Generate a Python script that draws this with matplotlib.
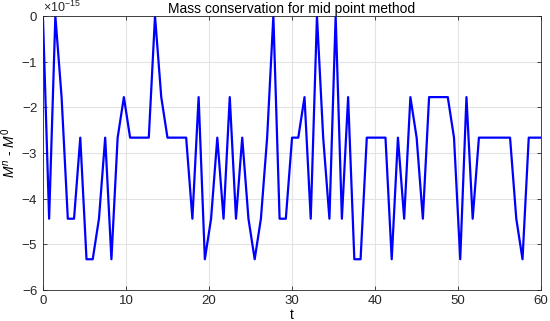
import numpy as np
import matplotlib
matplotlib.use("Agg")
import matplotlib.pyplot as plt
from matplotlib.ticker import ScalarFormatter

matplotlib.rcParams['font.family'] = ['Liberation Sans', 'DejaVu Sans']
matplotlib.rcParams['mathtext.fontset'] = 'custom'
matplotlib.rcParams['mathtext.rm'] = 'Liberation Sans'
matplotlib.rcParams['mathtext.it'] = 'Liberation Sans:italic'

# time grid (dt = 0.75) and mass error in units of 2^-50
dt = 0.75
err_units = [0, 5, 0, 2, 5, 5, 3, 6, 6, 5,
             3, 6, 3, 2, 3, 3, 3, 3, 0, 2,
             3, 3, 3, 3, 5, 2, 6, 5, 3, 5,
             2, 5, 3, 5, 6, 5, 3, 0, 5, 5,
             3, 3, 2, 5, 0, 3, 5, 0, 5, 2,
             6, 6, 3, 3, 3, 3, 6, 3, 5, 2,
             3, 5, 2, 2, 2, 2, 3, 6, 2, 5,
             3, 3, 3, 3, 3, 3, 5, 6, 3, 3,
             3]
eps = 2.0 ** -50

t = np.arange(len(err_units)) * dt
dM = -np.array(err_units) * eps

fig = plt.figure(figsize=(5.5, 3.21), dpi=100)
ax = fig.add_axes([0.078, 0.097, 0.906, 0.853])

ax.plot(t, dM, color='#0000ff', linewidth=1.6)

ax.set_xlim(0, 60)
ax.set_ylim(-6e-15, 0)
ax.set_xticks(np.arange(0, 61, 10))
ax.set_yticks(np.arange(-6, 1, 1) * 1e-15)

fmt = ScalarFormatter(useMathText=True)
fmt.set_powerlimits((0, 0))
ax.yaxis.set_major_formatter(fmt)
ax.yaxis.get_offset_text().set_fontsize(9)
ax.yaxis.get_offset_text().set_color('#262626')

ax.grid(True, color='#e3e3e3', linewidth=0.8)
ax.set_axisbelow(True)
for s in ax.spines.values():
    s.set_color('#262626')
    s.set_linewidth(0.6)
ax.tick_params(direction='in', top=True, right=True, length=3, width=0.6,
               colors='#262626', labelsize=9.5)

ax.set_title('Mass conservation for mid point method', fontsize=10, pad=2)
ax.set_xlabel('t', fontsize=10, labelpad=1)
ax.set_ylabel('$M^n$ - $M^0$', fontsize=10, labelpad=2)

fig.savefig('out.png', dpi=100)
